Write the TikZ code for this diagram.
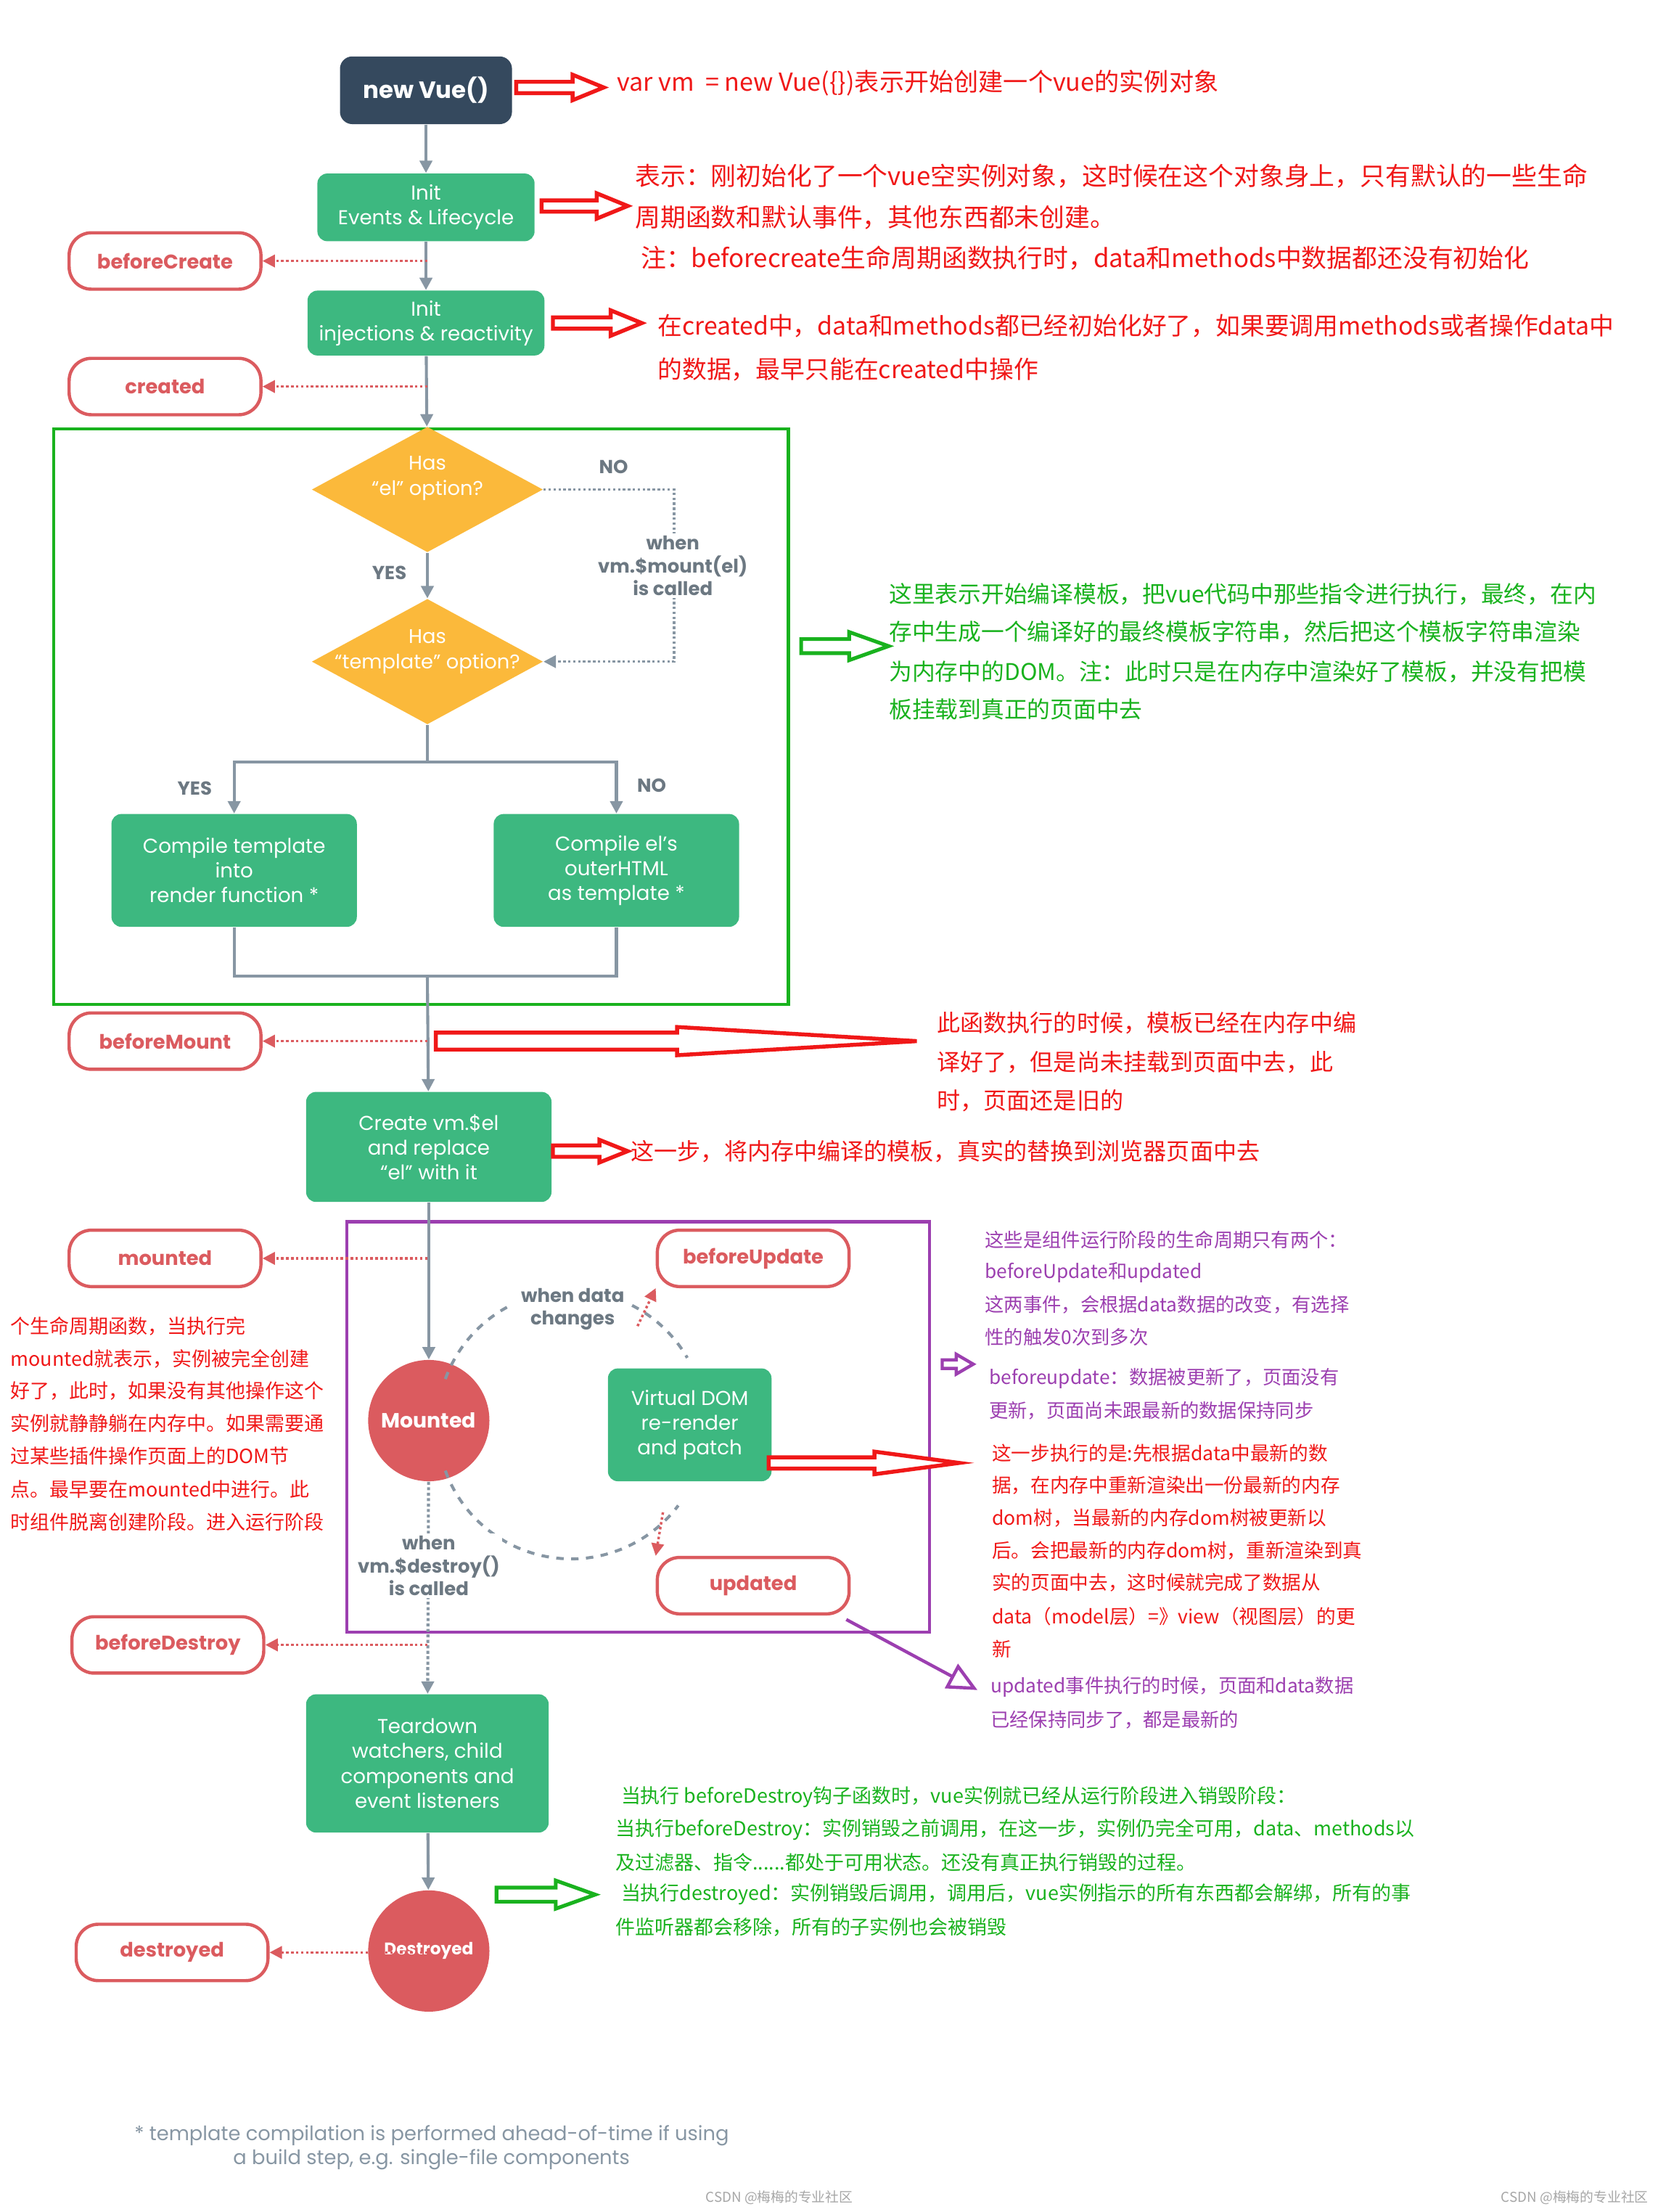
\documentclass[tikz,border=0pt]{standalone}
\usepackage{fontspec}
\setmainfont{Poppins}
\newfontfamily\cjk{Noto Sans CJK SC}
\usetikzlibrary{shapes.geometric,arrows.meta}
\definecolor{vg}{HTML}{3DB880}
\definecolor{vdark}{HTML}{35495E}
\definecolor{hk}{HTML}{DB5B5F}
\definecolor{yel}{HTML}{FBB93B}
\definecolor{ln}{HTML}{8796A3}
\definecolor{rd}{HTML}{F01818}
\definecolor{gn}{HTML}{19B21E}
\definecolor{pp}{HTML}{9C3FB0}
\newcommand\harr[7]{\draw[#7] (#1,#3-#4) -- (#2-#6,#3-#4) -- (#2-#6,#3-#5) -- (#2,#3) -- (#2-#6,#3+#5) -- (#2-#6,#3+#4) -- (#1,#3+#4) -- cycle;}
\begin{document}
\begin{tikzpicture}[x=0.02cm,y=-0.02cm,
 gbox/.style={fill=vg,rounded corners=4pt,text=white,align=center,font=\fontsize{8.1}{10}\selectfont,inner sep=0pt},
 hook/.style={draw=hk,line width=1.3pt,rounded corners=9pt,fill=white,text=hk,font=\fontsize{8}{10}\selectfont\bfseries,minimum width=2.72cm,minimum height=0.8cm},
 dia/.style={diamond,fill=yel,minimum width=3.28cm,minimum height=1.78cm,inner sep=0pt},
 dtx/.style={text=white,align=center,font=\fontsize{8}{10}\selectfont,inner sep=0pt},
 circ/.style={circle,fill=hk,text=white,minimum size=1.72cm,inner sep=0pt,font=\fontsize{8.3}{10}\selectfont\bfseries},
 mline/.style={draw=ln,line width=1.2pt},
 marr/.style={mline,-{Triangle[length=5pt,width=5pt]}},
 hkarr/.style={draw=hk,line width=1pt,densely dotted,-{Triangle[length=5pt,width=5pt]}},
 lbl/.style={text=ln!80!black,font=\fontsize{7.6}{9.2}\selectfont\bfseries,align=center},
 tx/.style={anchor=west,inner sep=0pt,font=\cjk},
 ra/.style={draw=rd,line width=1.6pt,fill=white},
]
\useasboundingbox (0,0) rectangle (1181,1568);
% main nodes
\node[fill=vdark,rounded corners=5pt,text=white,minimum width=2.44cm,minimum height=0.96cm,font=\fontsize{9.5}{12}\selectfont\bfseries] (nv) at (302,64) {new Vue()};
\node[gbox,minimum width=3.08cm,minimum height=0.96cm] (iel) at (302,147) {Init\\Events \& Lifecycle};
\node[gbox,minimum width=3.36cm,minimum height=0.92cm] (iir) at (302,229) {Init\\injections \& reactivity};
\node[hook] (bc) at (117,185) {beforeCreate};
\node[hook] (cr) at (117,274) {created};
\draw[gn,line width=1.3pt] (38,304) rectangle (559,712);
\node[dia] (d1) at (303,347) {};
\node[dtx] (t1) at (303,339) {Has\\``el'' option?};
\node[dia] (d2) at (303,469) {};
\node[dtx] (t2) at (303,462) {Has\\``template'' option?};
\node[gbox,minimum width=3.48cm,minimum height=1.6cm] (ct) at (166,617) {Compile template\\into\\render function *};
\node[gbox,minimum width=3.48cm,minimum height=1.6cm] (ce) at (437,617) {Compile el's\\outerHTML\\as template *};
\node[hook] (bm) at (117,738) {beforeMount};
\node[gbox,minimum width=3.48cm,minimum height=1.56cm] (cv) at (304,813) {Create vm.\$el\\and replace\\``el'' with it};
\draw[pp,line width=1.3pt] (246,866) rectangle (659,1157);
\node[hook] (mt) at (117,892) {mounted};
\node[circ] (mc) at (304,1007) {Mounted};
\node[gbox,minimum width=2.32cm,minimum height=1.6cm] (vd) at (489,1010) {Virtual DOM\\re-render\\and patch};
\node[hook] (bu) at (534,892) {beforeUpdate};
\node[hook] (ud) at (534,1124) {updated};
\node[hook] (bd) at (119,1166) {beforeDestroy};
\node[gbox,minimum width=3.44cm,minimum height=1.96cm] (td) at (303,1250) {Teardown\\watchers, child\\components and\\event listeners};
\node[circ,font=\fontsize{6.8}{8}\selectfont\bfseries] (dc) at (304,1383) {Destroyed};
\node[hook] (ds) at (122,1384) {destroyed};
% main line
\draw[marr] (nv) -- (iel);
\draw[marr] (iel) -- (iir);
\draw[marr] (iir) -- (d1);
\draw[marr] (d1) -- (d2);
\coordinate (j1) at (303,540); \coordinate (jl) at (166,540); \coordinate (jr) at (437,540);
\draw[mline] (d2) -- (j1);
\draw[marr] (j1) -- (jl) -- (ct);
\draw[marr] (j1) -- (jr) -- (ce);
\coordinate (bl) at (166,692); \coordinate (br) at (437,692); \coordinate (bj) at (303,692);
\draw[mline] (ct) -- (bl) -- (br) -- (ce);
\draw[marr] (bj) -- (cv);
\draw[marr] (cv) -- (mc);
\draw[mline,densely dotted,-{Triangle[length=5pt,width=5pt]}] (mc) -- (td);
\draw[marr] (td) -- (dc);
% dashed NO path
\coordinate (n1) at (478,347); \coordinate (n2) at (478,469);
\draw[ln,line width=1pt,densely dotted,-{Triangle[length=5pt,width=5pt]}] (d1.east) -- (n1) -- (n2) -- (d2.east);
\node[lbl] (lno1) at (435,331) {NO};
\node[lbl] (lyes1) at (276,406) {YES};
\node[lbl,fill=white,inner sep=1pt] (lwm) at (477,401) {when\\vm.\$mount(el)\\is called};
\node[lbl] (lyes2) at (138,559) {YES};
\node[lbl] (lno2) at (462,557) {NO};
% hooks
\foreach \h/\y in {bc/185,cr/274,bm/738,mt/892,bd/1166,ds/1384}{
 \coordinate (h\h) at (303,\y);
 \draw[hkarr] (h\h) -- (\h.east);}
% update cycle
\draw[ln,line width=1.2pt,dash pattern=on 3pt off 3pt] (405,1010) ++(200:95) arc (200:243:95);
\draw[ln,line width=1.2pt,dash pattern=on 3pt off 3pt] (405,1010) ++(297:95) arc (297:330:95);
\draw[ln,line width=1.2pt,dash pattern=on 3pt off 3pt] (405,1010) ++(160:95) arc (160:37:95);
\node[lbl] (lwd) at (406,928) {when data\\changes};
\coordinate (u1) at (452,940); \coordinate (u2) at (470,1072);
\draw[hkarr] (u1) -- (bu.south west);
\draw[hkarr] (u2) -- (ud.north west);
\node[lbl,fill=white,inner sep=1pt] (lwds) at (304,1110) {when\\vm.\$destroy()\\is called};
% annotation arrows
\harr{366}{428}{62}{4}{9}{22}{ra}
\harr{384}{445}{146}{4}{9}{22}{ra}
\harr{392}{455}{229}{4}{9}{22}{ra}
\harr{309}{650}{738}{6}{10}{170}{ra}
\harr{392}{445}{816}{4}{8}{20}{ra}
\harr{545}{680}{1037}{4}{8}{60}{ra}
\harr{568}{630}{458}{5}{10}{28}{draw=gn,line width=1.5pt,fill=white}
\harr{352}{422}{1343}{5}{10}{28}{draw=gn,line width=1.5pt,fill=white}
\harr{668}{690}{967}{3}{7}{12}{draw=pp,line width=1.3pt,fill=white}
\coordinate (pa1) at (600,1148); \coordinate (pa2) at (693,1198);
\draw[pp,line width=1.3pt,-{Triangle[open,length=12pt,width=11pt]}] (pa1) -- (pa2);
% texts
\begin{scope}[every node/.style={tx}]
\node[text=rd,font=\cjk\fontsize{10}{12}\selectfont] at (437,59) {var vm\ \ = new Vue(\{\})表示开始创建一个vue的实例对象};
\begin{scope}[every node/.append style={text=rd,font=\cjk\fontsize{10.2}{12}\selectfont}]
\node at (450,125) {表示：刚初始化了一个vue空实例对象，这时候在这个对象身上，只有默认的一些生命};
\node at (450,154) {周期函数和默认事件，其他东西都未创建。};
\node at (454,183) {注：beforecreate生命周期函数执行时，data和methods中数据都还没有初始化};
\node[font=\cjk\fontsize{9.9}{12}\selectfont] at (466,231) {在created中，data和methods都已经初始化好了，如果要调用methods或者操作data中};
\node[font=\cjk\fontsize{9.9}{12}\selectfont] at (466,262) {的数据，最早只能在created中操作};
\end{scope}
\begin{scope}[every node/.append style={text=gn,font=\cjk\fontsize{9.3}{12}\selectfont}]
\node at (630,421) {这里表示开始编译模板，把vue代码中那些指令进行执行，最终，在内};
\node at (630,448) {存中生成一个编译好的最终模板字符串，然后把这个模板字符串渲染};
\node at (630,476) {为内存中的DOM。注：此时只是在内存中渲染好了模板，并没有把模};
\node at (630,503) {板挂载到真正的页面中去};
\end{scope}
\begin{scope}[every node/.append style={text=rd,font=\cjk\fontsize{9.4}{12}\selectfont}]
\node at (664,725) {此函数执行的时候，模板已经在内存中编};
\node at (664,753) {译好了，但是尚未挂载到页面中去，此};
\node at (664,780) {时，页面还是旧的};
\node[font=\cjk\fontsize{9.4}{12}\selectfont] at (447,816) {这一步，将内存中编译的模板，真实的替换到浏览器页面中去};
\end{scope}
\begin{scope}[every node/.append style={text=rd,font=\cjk\fontsize{7.9}{10}\selectfont}]
\node at (7,940) {个生命周期函数，当执行完};
\node at (7,963) {mounted就表示，实例被完全创建};
\node at (7,986) {好了，此时，如果没有其他操作这个};
\node at (7,1009) {实例就静静躺在内存中。如果需要通};
\node at (7,1032) {过某些插件操作页面上的DOM节};
\node at (7,1056) {点。最早要在mounted中进行。此};
\node at (7,1079) {时组件脱离创建阶段。进入运行阶段};
\end{scope}
\begin{scope}[every node/.append style={text=pp,font=\cjk\fontsize{7.7}{10}\selectfont}]
\node at (698,879) {这些是组件运行阶段的生命周期只有两个：};
\node at (698,902) {beforeUpdate和updated};
\node at (698,925) {这两事件，会根据data数据的改变，有选择};
\node at (698,948) {性的触发0次到多次};
\node at (701,977) {beforeupdate：数据被更新了，页面没有};
\node at (701,1000) {更新，页面尚未跟最新的数据保持同步};
\node at (702,1196) {updated事件执行的时候，页面和data数据};
\node at (702,1219) {已经保持同步了，都是最新的};
\end{scope}
\begin{scope}[every node/.append style={text=rd,font=\cjk\fontsize{7.8}{10}\selectfont}]
\node at (703,1030) {这一步执行的是:先根据data中最新的数};
\node at (703,1053) {据，在内存中重新渲染出一份最新的内存};
\node at (703,1076) {dom树，当最新的内存dom树被更新以};
\node at (703,1099) {后。会把最新的内存dom树，重新渲染到真};
\node at (703,1122) {实的页面中去，这时候就完成了数据从};
\node at (703,1146) {data（model层）=》view（视图层）的更};
\node at (703,1169) {新};
\end{scope}
\begin{scope}[every node/.append style={text=gn,font=\cjk\fontsize{7.9}{10}\selectfont}]
\node at (440,1274) {当执行 beforeDestroy钩子函数时，vue实例就已经从运行阶段进入销毁阶段：};
\node at (436,1297) {当执行beforeDestroy：实例销毁之前调用，在这一步，实例仍完全可用，data、methods以};
\node at (436,1320) {及过滤器、指令......都处于可用状态。还没有真正执行销毁的过程。};
\node at (440,1343) {当执行destroyed：实例销毁后调用，调用后，vue实例指示的所有东西都会解绑，所有的事};
\node at (436,1366) {件监听器都会移除，所有的子实例也会被销毁};
\end{scope}
\node[text=ln,font=\fontsize{8}{10}\selectfont] at (95,1514) {* template compilation is performed ahead-of-time if using};
\node[text=ln,font=\fontsize{8}{10}\selectfont] at (165,1531) {a build step, e.g. single-file components};
\node[text=gray!70,font=\cjk\fontsize{5.5}{7}\selectfont] at (500,1558) {CSDN @梅梅的专业社区};
\node[text=gray!70,font=\cjk\fontsize{5.5}{7}\selectfont] at (1064,1558) {CSDN @梅梅的专业社区};
\end{scope}
\end{tikzpicture}
\end{document}
